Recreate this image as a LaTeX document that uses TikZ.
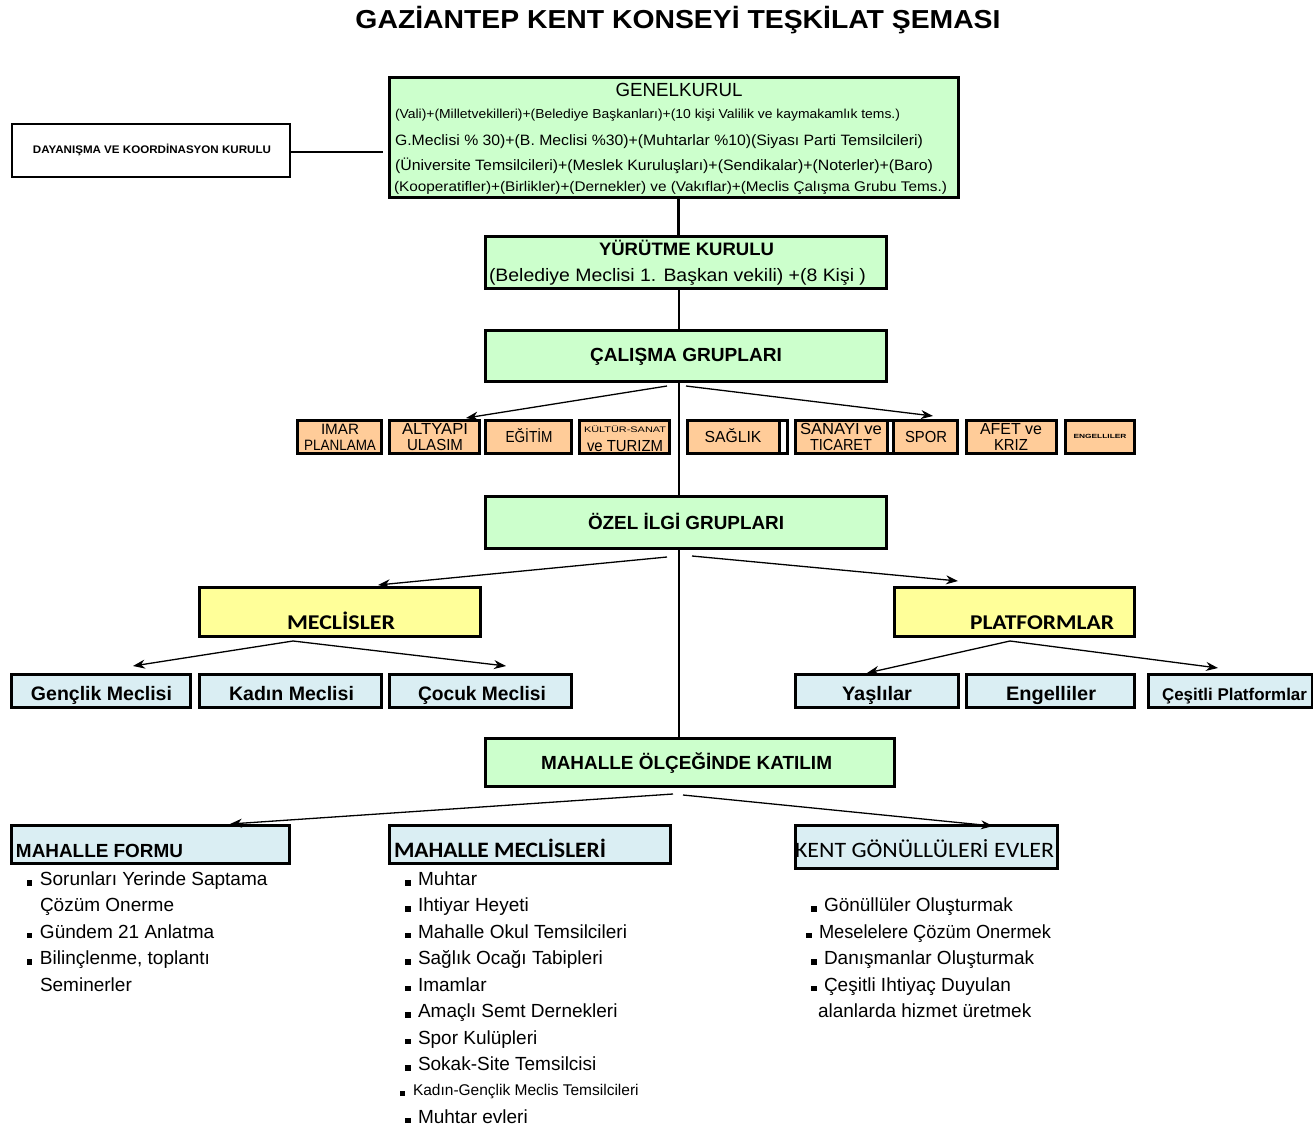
\documentclass[tikz,border=0pt]{standalone}
\usepackage{fontspec}
\setmainfont{Liberation Sans}
\newfontfamily\carl{Carlito}
\usepackage{graphicx}
\usetikzlibrary{arrows.meta}
\newcommand\fsz[1]{\fontsize{#1}{#1}\selectfont}
\newcommand\fw[2]{\resizebox{#1pt}{\height}{#2}}
\newcommand\bx[6]{\node[#1,minimum width={#4-#2},minimum height={#5-#3}] (#6) at ({(#2+#4)/2},{(#3+#5)/2}) {};}
\newcommand\bul{\makebox[13pt][l]{\rule{5.5pt}{5.5pt}}}
\definecolor{gbg}{HTML}{CCFFCC}
\definecolor{obg}{HTML}{FFCC99}
\definecolor{ybg}{HTML}{FFFF99}
\definecolor{bbg}{HTML}{DAEEF3}
\begin{document}
\begin{tikzpicture}[x=1pt,y=-1pt,
  box/.style={draw=black,line width=3pt,inner sep=0,outer sep=0},
  gbox/.style={box,fill=gbg},
  obox/.style={box,fill=obg},
  wbox/.style={box,fill=white},
  ybox/.style={box,fill=ybg},
  bbox/.style={box,fill=bbg},
  thinbox/.style={draw=black,line width=1.2pt,fill=white,inner sep=0,outer sep=0},
  txt/.style={inner sep=0,outer sep=0,text=black},
  lt/.style={txt,anchor=base west,font=\fsz{19}},
  ct/.style={txt,anchor=base},
  arr/.style={line width=1.3pt,-{Stealth[length=12pt,width=9pt]}},
  vline/.style={line width=1.3pt},
]
\useasboundingbox[fill=white] (0,0) rectangle (1313,1142);

% title
\node[ct] (title) at (678,29) {\fsz{26}\bfseries\fw{645}{GAZİANTEP KENT KONSEYİ TEŞKİLAT ŞEMASI}};

% boxes
\bx{gbox}{389}{78}{958}{197}{gk}
\bx{thinbox}{12}{124}{290}{177}{day}
\bx{gbox}{485}{236}{886}{288}{yk}
\bx{gbox}{485}{330}{886}{381}{cal}
\bx{obox}{297}{420}{381}{453}{imar}
\bx{obox}{389}{420}{479}{453}{alt}
\bx{obox}{485}{420}{571}{453}{egt}
\bx{obox}{579}{420}{669}{453}{kul}
\bx{obox}{687}{420}{779}{453}{sag}
\bx{wbox}{779}{420}{787}{453}{w1}
\bx{obox}{795}{420}{887}{453}{san}
\bx{wbox}{887}{420}{893}{453}{w2}
\bx{obox}{893}{420}{957}{453}{spor}
\bx{obox}{966}{420}{1056}{453}{afet}
\bx{obox}{1065}{420}{1134}{453}{eng}
\bx{gbox}{485}{496}{886}{548}{oz}
\bx{ybox}{199}{587}{480}{636}{mec}
\bx{ybox}{894}{587}{1134}{636}{plat}
\bx{bbox}{11}{674}{190}{707}{gen}
\bx{bbox}{199}{674}{381}{707}{kad}
\bx{bbox}{389}{674}{571}{707}{coc}
\bx{bbox}{795}{674}{958}{707}{yas}
\bx{bbox}{966}{674}{1134}{707}{engl}
\bx{bbox}{1148}{674}{1312}{707}{ces}
\bx{gbox}{485}{738}{894}{786}{mah}
\bx{bbox}{11}{825}{289}{863}{mf}
\bx{bbox}{389}{825}{670}{863}{mm}
\bx{bbox}{795}{825}{1057}{868}{kg}

% genel kurul texts
\node[ct] (gkt) at (679,97) {\fsz{19}\fw{127}{GENELKURUL}};
\node[txt,anchor=base west] (gk1) at (395,118.5) {\fsz{13}\fw{505}{(Vali)+(Milletvekilleri)+(Belediye Başkanları)+(10 kişi Valilik ve kaymakamlık tems.)}};
\node[txt,anchor=base west] (gk2) at (395,146) {\fsz{15}\fw{528}{G.Meclisi \% 30)+(B. Meclisi \%30)+(Muhtarlar \%10)(Siyası Parti Temsilcileri)}};
\node[txt,anchor=base west] (gk3) at (395,171) {\fsz{15}\fw{538}{(Üniversite Temsilcileri)+(Meslek Kuruluşları)+(Sendikalar)+(Noterler)+(Baro)}};
\node[txt,anchor=base west] (gk4) at (394,191) {\fsz{14}\fw{553}{(Kooperatifler)+(Birlikler)+(Dernekler) ve (Vakıflar)+(Meclis Çalışma Grubu Tems.)}};

\node[ct] (dayt) at (152,154) {\fsz{11}\bfseries\fw{238}{DAYANIŞMA VE KOORDİNASYON KURULU}};

\node[ct] (ykt1) at (686.5,255) {\fsz{18}\bfseries\fw{175}{YÜRÜTME KURULU}};
\node[txt,anchor=base west] (ykt2) at (489,281) {\fsz{18}\fw{377}{(Belediye Meclisi 1. Başkan vekili) +(8 Kişi )}};

\node[ct] (calt) at (686,361) {\fsz{19}\bfseries\fw{192}{ÇALIŞMA GRUPLARI}};

% small group texts
\node[ct] (imar1) at (340,434) {\fsz{15}\fw{38}{IMAR}};
\node[ct] (imar2) at (340,450) {\fsz{15}\fw{72}{PLANLAMA}};
\node[ct] (alt1) at (435,434) {\fsz{16}\fw{66}{ALTYAPI}};
\node[ct] (alt2) at (435,450) {\fsz{16}\fw{56}{ULASIM}};
\node[ct] (egt1) at (529,442) {\fsz{16}\fw{47}{EĞİTİM}};
\node[ct] (kul1) at (625,432) {\fsz{8}\fw{82}{KÜLTÜR-SANAT}};
\node[ct] (kul2) at (625,451) {\fsz{16}\fw{76}{ve TURIZM}};
\node[ct] (sag1) at (733,442) {\fsz{16}\fw{57}{SAĞLIK}};
\node[ct] (san1) at (841,434) {\fsz{16}\fw{82}{SANAYI ve}};
\node[ct] (san2) at (841,450) {\fsz{16}\fw{62}{TICARET}};
\node[ct] (spor1) at (926,442) {\fsz{16}\fw{42}{SPOR}};
\node[ct] (afet1) at (1011,434) {\fsz{16}\fw{62}{AFET ve}};
\node[ct] (afet2) at (1011,450) {\fsz{16}\fw{34}{KRIZ}};
\node[ct] (eng1) at (1100,438.5) {\fsz{6}\bfseries\fw{53}{ENGELLILER}};

\node[ct] (ozt) at (686,529) {\fsz{19}\bfseries\fw{196}{ÖZEL İLGİ GRUPLARI}};

\node[ct] (mect) at (341,629) {\carl\fsz{21}\bfseries\fw{108}{MECLİSLER}};
\node[ct] (platt) at (1042,629) {\carl\fsz{21}\bfseries\fw{144}{PLATFORMLAR}};

\node[ct] (gent) at (101.5,700) {\fsz{19.5}\bfseries\fw{141}{Gençlik Meclisi}};
\node[ct] (kadt) at (291.5,700) {\fsz{19.5}\bfseries\fw{125}{Kadın Meclisi}};
\node[ct] (coct) at (482,700) {\fsz{19.5}\bfseries\fw{128}{Çocuk Meclisi}};
\node[ct] (yast) at (877,700) {\fsz{19.5}\bfseries\fw{70}{Yaşlılar}};
\node[ct] (englt) at (1051,700) {\fsz{19.5}\bfseries\fw{90}{Engelliler}};
\node[ct] (cest) at (1234.5,700) {\fsz{17}\bfseries\fw{145}{Çeşitli Platformlar}};

\node[ct] (maht) at (686.5,769) {\fsz{19}\bfseries\fw{291}{MAHALLE ÖLÇEĞİNDE KATILIM}};

\node[txt,anchor=base west] (mft) at (16,857) {\fsz{19}\bfseries\fw{167}{MAHALLE FORMU}};
\node[txt,anchor=base west] (mmt) at (394,857) {\carl\fsz{22}\bfseries\fw{212}{MAHALLE MECLİSLERİ}};
\node[txt,anchor=base west] (kgt) at (795,857) {\carl\fsz{22}\fw{259}{KENT GÖNÜLLÜLERİ EVLER}};

% lists
\node[lt] (mf1) at (27,885.5) {\bul Sorunları Yerinde Saptama};
\node[lt] (mf1b) at (40,911.5) {Çözüm Onerme};
\node[lt] (mf2) at (27,938) {\bul Gündem 21 Anlatma};
\node[lt] (mf3) at (27,964.5) {\bul Bilinçlenme, toplantı};
\node[lt] (mf3b) at (40,991) {Seminerler};

\node[lt] (mm1) at (405,885.5) {\bul Muhtar};
\node[lt] (mm2) at (405,911.5) {\bul Ihtiyar Heyeti};
\node[lt] (mm3) at (405,938) {\bul Mahalle Okul Temsilcileri};
\node[lt] (mm4) at (405,964.5) {\bul Sağlık Ocağı Tabipleri};
\node[lt] (mm5) at (405,991) {\bul Imamlar};
\node[lt] (mm6) at (405,1017.5) {\bul Amaçlı Semt Dernekleri};
\node[lt] (mm7) at (405,1044) {\bul Spor Kulüpleri};
\node[lt] (mm8) at (405,1070.5) {\bul Sokak-Site Temsilcisi};
\node[lt,font=\fsz{15.5}] (mm9) at (400,1095.5) {\makebox[13pt][l]{\rule{4.5pt}{4.5pt}}Kadın-Gençlik Meclis Temsilcileri};
\node[lt] (mm10) at (405,1123) {\bul Muhtar evleri};

\node[lt] (kg1) at (811,911.5) {\bul Gönüllüler Oluşturmak};
\node[lt] (kg2) at (806,938) {\bul \fw{232}{Meselelere Çözüm Onermek}};
\node[lt] (kg3) at (811,964.5) {\bul Danışmanlar Oluşturmak};
\node[lt] (kg4) at (811,991) {\bul Çeşitli Ihtiyaç Duyulan};
\node[lt] (kg4b) at (818,1017.5) {alanlarda hizmet üretmek};

% connectors
\coordinate (vx) at (678,0);
\coordinate (vy) at (679,0);
\draw[line width=3pt] (gk.south -| vx) -- (yk.north -| vx);
\draw[vline] (yk.south -| vy) -- (cal.north -| vy);
\draw[vline] (cal.south -| vy) -- (oz.north -| vy);
\draw[vline] (oz.south -| vy) -- (mah.north -| vy);
\coordinate (dayend) at (383,152);
\draw[line width=1.2pt] (day.east |- dayend) -- (dayend);

\coordinate (c1) at (667,386);
\coordinate (c1t) at (466,418);
\coordinate (c2) at (686,386);
\coordinate (c2t) at (933,416);
\draw[arr] (c1) -- (c1t);
\draw[arr] (c2) -- (c2t);

\coordinate (o1) at (667,557);
\coordinate (o1t) at (378,585);
\coordinate (o2) at (692,556);
\coordinate (o2t) at (958,581);
\draw[arr] (o1) -- (o1t);
\draw[arr] (o2) -- (o2t);

\coordinate (m0) at (293,641);
\coordinate (m1t) at (133,666);
\coordinate (m2t) at (506,666);
\draw[arr] (m0) -- (m1t);
\draw[arr] (m0) -- (m2t);

\coordinate (p0) at (1010,641);
\coordinate (p1t) at (867,673);
\coordinate (p2t) at (1218,668);
\draw[arr] (p0) -- (p1t);
\draw[arr] (p0) -- (p2t);

\coordinate (h1) at (673,794);
\coordinate (h1t) at (230,824);
\coordinate (h2) at (683,795);
\coordinate (h2t) at (993,826);
\draw[arr] (h1) -- (h1t);
\draw[arr] (h2) -- (h2t);
\end{tikzpicture}
\end{document}
